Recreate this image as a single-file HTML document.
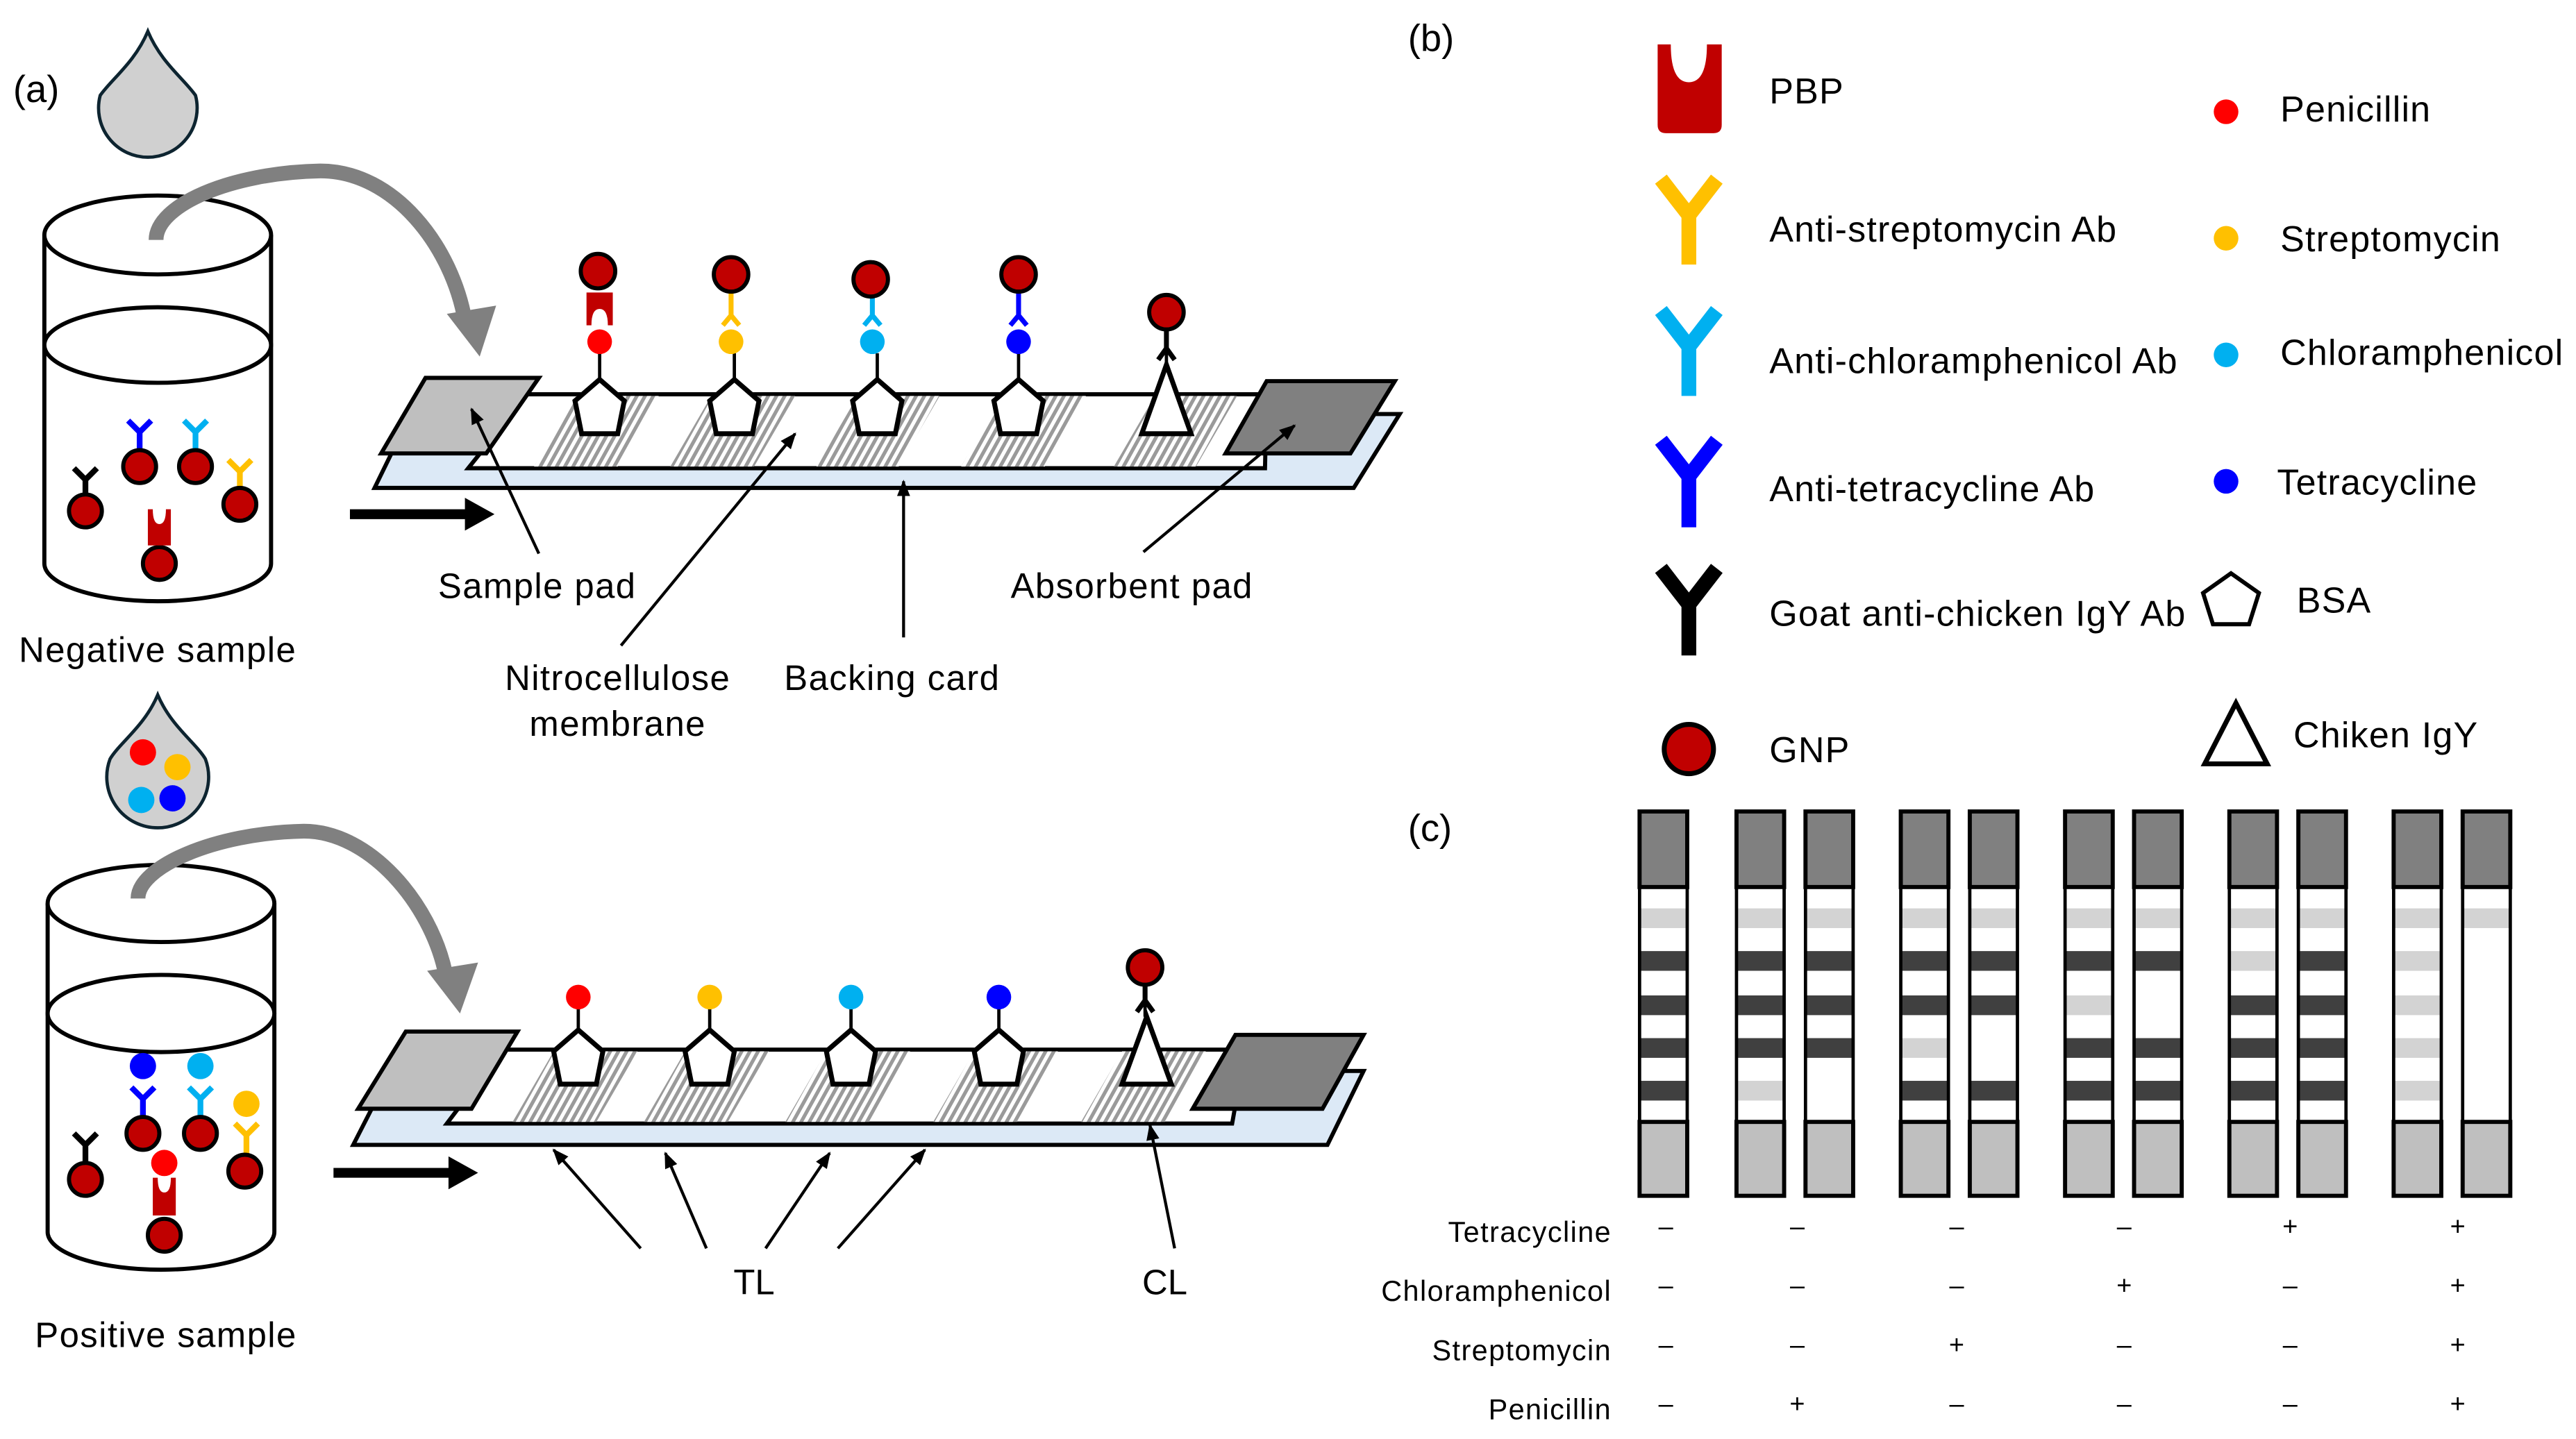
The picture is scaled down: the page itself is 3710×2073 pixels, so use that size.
<!DOCTYPE html>
<html><head><meta charset="utf-8"><style>
html,body{margin:0;padding:0;background:#fff;}
svg{display:block;}
text{font-family:"Liberation Sans",Arial,sans-serif;fill:#000;}
</style></head><body>
<svg width="3710" height="2073" viewBox="0 0 1568 876" xmlns="http://www.w3.org/2000/svg">
<defs>
<pattern id="h" width="5" height="10" patternUnits="userSpaceOnUse" patternTransform="skewX(-29)">
<rect width="5" height="10" fill="#fff"/><rect x="0" width="2.5" height="10" fill="#9a9a9a"/>
</pattern>
<marker id="ah" markerWidth="10" markerHeight="10" refX="9" refY="5" orient="auto" markerUnits="userSpaceOnUse">
<path d="M0,1 L10,5 L0,9 Z" fill="#000"/></marker>
</defs>

<!-- ============ PANEL A TOP ============ -->
<text x="8" y="62" font-size="23">(a)</text>
<path d="M90,19 C82,38 68,48 61,58 A30,30 0 1 0 119,58 C112,48 98,38 90,19 Z" fill="#d0d0d0" stroke="#0d2430" stroke-width="2"/>
<path d="M27,143 L27,343 A69,23 0 0 0 165,343 L165,143" fill="#fff" stroke="#000" stroke-width="2.5"/>
<ellipse cx="96" cy="143" rx="69" ry="24" fill="#fff" stroke="#000" stroke-width="2.5"/>
<ellipse cx="96" cy="210" rx="69" ry="23" fill="#fff" stroke="#000" stroke-width="2.5"/>
<g stroke-width="3.5" fill="none">
<path d="M45,285 L52,292 L59,285 M52,292 L52,302" stroke="#000"/>
<path d="M78,256 L85,263 L92,256 M85,263 L85,274" stroke="#0000ff"/>
<path d="M112,256 L119,263 L126,256 M119,263 L119,274" stroke="#00b0f0"/>
<path d="M139,280 L146,287 L153,280 M146,287 L146,297" stroke="#ffc000"/>
</g>
<g fill="#c00000" stroke="#000" stroke-width="2.5">
<circle cx="52" cy="311" r="10"/><circle cx="85" cy="284" r="10"/><circle cx="119" cy="284" r="10"/><circle cx="146" cy="307" r="10"/><circle cx="97" cy="343" r="10"/>
</g>
<path d="M90,310 L93,310 Q93,319 97,319 Q101,319 101,310 L104,310 L104,332 L90,332 Z" fill="#c00000"/>
<g font-size="21.5" letter-spacing="0.6" text-anchor="middle">
<text x="96" y="403">Negative sample</text>
</g>
<path d="M95,146 C95,125 140,105 195,104 C240,104 275,150 283,195" fill="none" stroke="#808080" stroke-width="9"/>
<path d="M272,191 L302,186 L292,217 Z" fill="#808080"/>
<polygon points="228,297 250,252 852,252 824,297" fill="#dce9f6" stroke="#000" stroke-width="2.5"/>
<polygon points="285,285 321,240 771,240 770,285" fill="#fff" stroke="#000" stroke-width="2.5"/>
<g fill="url(#h)">
<polygon points="325,284 351,241 401,241 376,284"/>
<polygon points="408,284 433,241 484,241 459,284"/>
<polygon points="497,284 522,241 572,241 547,284"/>
<polygon points="585,284 610,241 661,241 636,284"/>
<polygon points="678,284 703,241 753,241 728,284"/>
</g>
<polygon points="232,276 259,230 328,230 296,276" fill="#bfbfbf" stroke="#000" stroke-width="2.5"/>
<polygon points="746,276 771,232 849,232 822,276" fill="#808080" stroke="#000" stroke-width="2.5"/>
<g fill="#fff" stroke="#000" stroke-width="3">
<polygon points="365,231 380,244 376,264 354,264 350,244"/>
<polygon points="447,231 462,244 458,264 436,264 432,244"/>
<polygon points="534,231 549,244 545,264 523,264 519,244"/>
<polygon points="620,231 635,244 631,264 609,264 605,244"/>
<polygon points="710,222 725,264 695,264"/>
</g>
<g stroke="#000" stroke-width="2"><line x1="365" y1="215" x2="365" y2="231"/><line x1="447" y1="215" x2="447" y2="231"/><line x1="534" y1="215" x2="534" y2="231"/><line x1="620" y1="215" x2="620" y2="231"/><line x1="710" y1="200" x2="710" y2="222"/></g>
<circle cx="365" cy="208" r="7.5" fill="#ff0000"/><circle cx="445" cy="208" r="7.5" fill="#ffc000"/><circle cx="531" cy="208" r="7.5" fill="#00b0f0"/><circle cx="620" cy="208" r="7.5" fill="#0000ff"/>
<path d="M357,178 L373,178 L373,198 L370,198 Q370,188 365,188 Q360,188 360,198 L357,198 Z" fill="#c00000"/>
<g stroke-width="3" fill="none">
<path d="M440,198 L445,192 L450,198 M445,192 L445,176" stroke="#ffc000"/>
<path d="M526,198 L531,192 L536,198 M531,192 L531,180" stroke="#00b0f0"/>
<path d="M615,198 L620,192 L625,198 M620,192 L620,177" stroke="#0000ff"/>
<path d="M705,219 L710,212 L715,219 M710,212 L710,200" stroke="#000"/>
</g>
<g fill="#c00000" stroke="#000" stroke-width="2.5">
<circle cx="364" cy="165" r="10.5"/><circle cx="445" cy="167" r="10.5"/><circle cx="530" cy="170" r="10.5"/><circle cx="620" cy="167" r="10.5"/><circle cx="710" cy="190" r="10.5"/>
</g>
<line x1="213" y1="313" x2="286" y2="313" stroke="#000" stroke-width="6"/>
<path d="M283,303 L301,313 L283,323 Z" fill="#000"/>
<g stroke="#000" stroke-width="1.8" marker-end="url(#ah)">
<line x1="328" y1="337" x2="287" y2="249"/>
<line x1="378" y1="393" x2="484" y2="264"/>
<line x1="550" y1="388" x2="550" y2="293"/>
<line x1="696" y1="336" x2="788" y2="259"/>
</g>
<g font-size="21.5" letter-spacing="0.6" text-anchor="middle">
<text x="327" y="364">Sample pad</text>
<text x="376" y="420">Nitrocellulose</text>
<text x="376" y="448">membrane</text>
<text x="543" y="420">Backing card</text>
<text x="689" y="364">Absorbent pad</text>
</g>

<!-- ============ PANEL A BOTTOM ============ -->
<path d="M96,423 C88,442 73,452 67,462 A31,31 0 1 0 125,462 C119,452 104,442 96,423 Z" fill="#d0d0d0" stroke="#0d2430" stroke-width="2"/>
<circle cx="87" cy="458" r="8" fill="#ff0000"/><circle cx="108" cy="467" r="8" fill="#ffc000"/><circle cx="86" cy="487" r="8" fill="#00b0f0"/><circle cx="105" cy="486" r="8" fill="#0000ff"/>
<path d="M29,550 L29,750 A69,23 0 0 0 167,750 L167,550" fill="#fff" stroke="#000" stroke-width="2.5"/>
<ellipse cx="98" cy="550" rx="69" ry="23.5" fill="#fff" stroke="#000" stroke-width="2.5"/>
<ellipse cx="98" cy="617" rx="69" ry="23.5" fill="#fff" stroke="#000" stroke-width="2.5"/>
<circle cx="87" cy="649" r="8" fill="#0000ff"/><circle cx="122" cy="649" r="8" fill="#00b0f0"/><circle cx="150" cy="672" r="8" fill="#ffc000"/><circle cx="100" cy="708" r="8" fill="#ff0000"/>
<g stroke-width="3.5" fill="none">
<path d="M45,690 L52,697 L59,690 M52,697 L52,708" stroke="#000"/>
<path d="M80,662 L87,669 L94,662 M87,669 L87,680" stroke="#0000ff"/>
<path d="M115,662 L122,669 L129,662 M122,669 L122,680" stroke="#00b0f0"/>
<path d="M143,684 L150,691 L157,684 M150,691 L150,703" stroke="#ffc000"/>
</g>
<path d="M93,717 L96,717 Q96,726 100,726 Q104,726 104,717 L107,717 L107,740 L93,740 Z" fill="#c00000"/>
<g fill="#c00000" stroke="#000" stroke-width="2.5">
<circle cx="52" cy="718" r="10"/><circle cx="87" cy="690" r="10"/><circle cx="122" cy="690" r="10"/><circle cx="149" cy="713" r="10"/><circle cx="100" cy="752" r="10"/>
</g>
<text x="101" y="820" font-size="21.5" letter-spacing="0.6" text-anchor="middle">Positive sample</text>
<path d="M84,547 C84,528 130,507 185,506 C225,506 262,550 271,592" fill="none" stroke="#808080" stroke-width="9"/>
<path d="M260,591 L291,586 L280,617 Z" fill="#808080"/>
<polygon points="215,697 238,652 830,652 808,697" fill="#dce9f6" stroke="#000" stroke-width="2.5"/>
<polygon points="272,684 306,639 758,639 750,684" fill="#fff" stroke="#000" stroke-width="2.5"/>
<g fill="url(#h)">
<polygon points="312,683 337,640 388,640 363,683"/>
<polygon points="392,683 417,640 468,640 443,683"/>
<polygon points="478,683 503,640 554,640 529,683"/>
<polygon points="568,683 593,640 644,640 619,683"/>
<polygon points="658,683 683,640 734,640 709,683"/>
</g>
<polygon points="218,675 247,628 315,628 287,675" fill="#bfbfbf" stroke="#000" stroke-width="2.5"/>
<polygon points="726,675 752,630 830,630 805,675" fill="#808080" stroke="#000" stroke-width="2.5"/>
<g fill="#fff" stroke="#000" stroke-width="3">
<polygon points="352,627 367,640 363,660 341,660 337,640"/>
<polygon points="432,627 447,640 443,660 421,660 417,640"/>
<polygon points="518,627 533,640 529,660 507,660 503,640"/>
<polygon points="608,627 623,640 619,660 597,660 593,640"/>
<polygon points="698,619 713,660 683,660"/>
</g>
<g stroke="#000" stroke-width="2"><line x1="352" y1="612" x2="352" y2="627"/><line x1="432" y1="612" x2="432" y2="627"/><line x1="518" y1="612" x2="518" y2="627"/><line x1="608" y1="612" x2="608" y2="627"/><line x1="697" y1="598" x2="697" y2="619"/></g>
<circle cx="352" cy="607" r="7.5" fill="#ff0000"/><circle cx="432" cy="607" r="7.5" fill="#ffc000"/><circle cx="518" cy="607" r="7.5" fill="#00b0f0"/><circle cx="608" cy="607" r="7.5" fill="#0000ff"/>
<path d="M692,616 L697,609 L702,616 M697,609 L697,598" stroke="#000" stroke-width="3" fill="none"/>
<circle cx="697" cy="589" r="10.5" fill="#c00000" stroke="#000" stroke-width="2.5"/>
<line x1="203" y1="714" x2="276" y2="714" stroke="#000" stroke-width="6"/>
<path d="M273,704 L291,714 L273,724 Z" fill="#000"/>
<g stroke="#000" stroke-width="1.8" marker-end="url(#ah)">
<line x1="390" y1="760" x2="337" y2="700"/>
<line x1="430" y1="760" x2="405" y2="702"/>
<line x1="466" y1="760" x2="505" y2="702"/>
<line x1="510" y1="760" x2="563" y2="700"/>
<line x1="715" y1="760" x2="700" y2="685"/>
</g>
<text x="459" y="788" font-size="21.5" text-anchor="middle">TL</text>
<text x="709" y="788" font-size="21.5" text-anchor="middle">CL</text>

<!-- ============ PANEL B ============ -->
<text x="857" y="31" font-size="23">(b)</text>
<path d="M1009,27 L1017,27 Q1017,50 1028,50 Q1039,50 1039,27 L1048,27 L1048,76 Q1048,81 1043,81 L1014,81 Q1009,81 1009,76 Z" fill="#c00000"/>
<g stroke-width="9" fill="none">
<path d="M1011,109 L1028,131 L1045,109 M1028,131 L1028,161" stroke="#ffc000"/>
<path d="M1011,189 L1028,211 L1045,189 M1028,211 L1028,241" stroke="#00b0f0"/>
<path d="M1011,268 L1028,290 L1045,268 M1028,290 L1028,321" stroke="#0000ff"/>
<path d="M1011,346 L1028,368 L1045,346 M1028,368 L1028,399" stroke="#000"/>
</g>
<circle cx="1028" cy="456" r="15" fill="#c00000" stroke="#000" stroke-width="3"/>
<g font-size="22" letter-spacing="0.5">
<text x="1077" y="63">PBP</text>
<text x="1077" y="147">Anti-streptomycin Ab</text>
<text x="1077" y="227">Anti-chloramphenicol Ab</text>
<text x="1077" y="305">Anti-tetracycline Ab</text>
<text x="1077" y="381">Goat anti-chicken IgY Ab</text>
<text x="1077" y="464">GNP</text>
<text x="1388" y="74">Penicillin</text>
<text x="1388" y="153">Streptomycin</text>
<text x="1388" y="222">Chloramphenicol</text>
<text x="1386" y="301">Tetracycline</text>
<text x="1398" y="373">BSA</text>
<text x="1396" y="455">Chiken IgY</text>
</g>
<circle cx="1355" cy="68" r="7.5" fill="#ff0000"/><circle cx="1355" cy="145" r="7.5" fill="#ffc000"/><circle cx="1355" cy="216" r="7.5" fill="#00b0f0"/><circle cx="1355" cy="293" r="7.5" fill="#0000ff"/>
<polygon points="1358,349 1375,361 1369,380 1347,380 1341,361" fill="#fff" stroke="#000" stroke-width="2.5"/>
<polygon points="1361,428 1380,465 1342,465" fill="#fff" stroke="#000" stroke-width="3"/>

<!-- ============ PANEL C ============ -->
<text x="857" y="512" font-size="23">(c)</text>
<g font-size="17.5" letter-spacing="0.6" text-anchor="end">
<text x="981" y="756">Tetracycline</text>
<text x="981" y="792">Chloramphenicol</text>
<text x="981" y="828">Streptomycin</text>
<text x="981" y="864">Penicillin</text>
</g>
<g font-size="16" text-anchor="middle">
<text x="1014" y="752">–</text><text x="1094" y="752">–</text><text x="1191" y="752">–</text><text x="1293" y="752">–</text><text x="1394" y="752">+</text><text x="1496" y="752">+</text>
<text x="1014" y="788">–</text><text x="1094" y="788">–</text><text x="1191" y="788">–</text><text x="1293" y="788">+</text><text x="1394" y="788">–</text><text x="1496" y="788">+</text>
<text x="1014" y="824">–</text><text x="1094" y="824">–</text><text x="1191" y="824">+</text><text x="1293" y="824">–</text><text x="1394" y="824">–</text><text x="1496" y="824">+</text>
<text x="1014" y="860">–</text><text x="1094" y="860">+</text><text x="1191" y="860">–</text><text x="1293" y="860">–</text><text x="1394" y="860">–</text><text x="1496" y="860">+</text>
</g>
<g>
<g transform="translate(998,0)"><rect x="0" y="541" width="29" height="142" fill="#fff"/><rect x="0" y="553" width="29" height="12" fill="#d3d3d3"/><rect x="0" y="579" width="29" height="12" fill="#404040"/><rect x="0" y="606" width="29" height="12" fill="#404040"/><rect x="0" y="632" width="29" height="12" fill="#404040"/><rect x="0" y="658" width="29" height="12" fill="#404040"/><rect x="0" y="494" width="29" height="46" fill="#808080" stroke="#000" stroke-width="2.5"/><rect x="0" y="540" width="29" height="143" fill="none" stroke="#000" stroke-width="2"/><rect x="0" y="683" width="29" height="45" fill="#bfbfbf" stroke="#000" stroke-width="2.5"/></g>
<g transform="translate(1057,0)"><rect x="0" y="541" width="29" height="142" fill="#fff"/><rect x="0" y="553" width="29" height="12" fill="#d3d3d3"/><rect x="0" y="579" width="29" height="12" fill="#404040"/><rect x="0" y="606" width="29" height="12" fill="#404040"/><rect x="0" y="632" width="29" height="12" fill="#404040"/><rect x="0" y="658" width="29" height="12" fill="#d3d3d3"/><rect x="0" y="494" width="29" height="46" fill="#808080" stroke="#000" stroke-width="2.5"/><rect x="0" y="540" width="29" height="143" fill="none" stroke="#000" stroke-width="2"/><rect x="0" y="683" width="29" height="45" fill="#bfbfbf" stroke="#000" stroke-width="2.5"/></g>
<g transform="translate(1099,0)"><rect x="0" y="541" width="29" height="142" fill="#fff"/><rect x="0" y="553" width="29" height="12" fill="#d3d3d3"/><rect x="0" y="579" width="29" height="12" fill="#404040"/><rect x="0" y="606" width="29" height="12" fill="#404040"/><rect x="0" y="632" width="29" height="12" fill="#404040"/><rect x="0" y="494" width="29" height="46" fill="#808080" stroke="#000" stroke-width="2.5"/><rect x="0" y="540" width="29" height="143" fill="none" stroke="#000" stroke-width="2"/><rect x="0" y="683" width="29" height="45" fill="#bfbfbf" stroke="#000" stroke-width="2.5"/></g>
<g transform="translate(1157,0)"><rect x="0" y="541" width="29" height="142" fill="#fff"/><rect x="0" y="553" width="29" height="12" fill="#d3d3d3"/><rect x="0" y="579" width="29" height="12" fill="#404040"/><rect x="0" y="606" width="29" height="12" fill="#404040"/><rect x="0" y="632" width="29" height="12" fill="#d3d3d3"/><rect x="0" y="658" width="29" height="12" fill="#404040"/><rect x="0" y="494" width="29" height="46" fill="#808080" stroke="#000" stroke-width="2.5"/><rect x="0" y="540" width="29" height="143" fill="none" stroke="#000" stroke-width="2"/><rect x="0" y="683" width="29" height="45" fill="#bfbfbf" stroke="#000" stroke-width="2.5"/></g>
<g transform="translate(1199,0)"><rect x="0" y="541" width="29" height="142" fill="#fff"/><rect x="0" y="553" width="29" height="12" fill="#d3d3d3"/><rect x="0" y="579" width="29" height="12" fill="#404040"/><rect x="0" y="606" width="29" height="12" fill="#404040"/><rect x="0" y="658" width="29" height="12" fill="#404040"/><rect x="0" y="494" width="29" height="46" fill="#808080" stroke="#000" stroke-width="2.5"/><rect x="0" y="540" width="29" height="143" fill="none" stroke="#000" stroke-width="2"/><rect x="0" y="683" width="29" height="45" fill="#bfbfbf" stroke="#000" stroke-width="2.5"/></g>
<g transform="translate(1257,0)"><rect x="0" y="541" width="29" height="142" fill="#fff"/><rect x="0" y="553" width="29" height="12" fill="#d3d3d3"/><rect x="0" y="579" width="29" height="12" fill="#404040"/><rect x="0" y="606" width="29" height="12" fill="#d3d3d3"/><rect x="0" y="632" width="29" height="12" fill="#404040"/><rect x="0" y="658" width="29" height="12" fill="#404040"/><rect x="0" y="494" width="29" height="46" fill="#808080" stroke="#000" stroke-width="2.5"/><rect x="0" y="540" width="29" height="143" fill="none" stroke="#000" stroke-width="2"/><rect x="0" y="683" width="29" height="45" fill="#bfbfbf" stroke="#000" stroke-width="2.5"/></g>
<g transform="translate(1299,0)"><rect x="0" y="541" width="29" height="142" fill="#fff"/><rect x="0" y="553" width="29" height="12" fill="#d3d3d3"/><rect x="0" y="579" width="29" height="12" fill="#404040"/><rect x="0" y="632" width="29" height="12" fill="#404040"/><rect x="0" y="658" width="29" height="12" fill="#404040"/><rect x="0" y="494" width="29" height="46" fill="#808080" stroke="#000" stroke-width="2.5"/><rect x="0" y="540" width="29" height="143" fill="none" stroke="#000" stroke-width="2"/><rect x="0" y="683" width="29" height="45" fill="#bfbfbf" stroke="#000" stroke-width="2.5"/></g>
<g transform="translate(1357,0)"><rect x="0" y="541" width="29" height="142" fill="#fff"/><rect x="0" y="553" width="29" height="12" fill="#d3d3d3"/><rect x="0" y="579" width="29" height="12" fill="#d3d3d3"/><rect x="0" y="606" width="29" height="12" fill="#404040"/><rect x="0" y="632" width="29" height="12" fill="#404040"/><rect x="0" y="658" width="29" height="12" fill="#404040"/><rect x="0" y="494" width="29" height="46" fill="#808080" stroke="#000" stroke-width="2.5"/><rect x="0" y="540" width="29" height="143" fill="none" stroke="#000" stroke-width="2"/><rect x="0" y="683" width="29" height="45" fill="#bfbfbf" stroke="#000" stroke-width="2.5"/></g>
<g transform="translate(1399,0)"><rect x="0" y="541" width="29" height="142" fill="#fff"/><rect x="0" y="553" width="29" height="12" fill="#d3d3d3"/><rect x="0" y="579" width="29" height="12" fill="#404040"/><rect x="0" y="606" width="29" height="12" fill="#404040"/><rect x="0" y="632" width="29" height="12" fill="#404040"/><rect x="0" y="658" width="29" height="12" fill="#404040"/><rect x="0" y="494" width="29" height="46" fill="#808080" stroke="#000" stroke-width="2.5"/><rect x="0" y="540" width="29" height="143" fill="none" stroke="#000" stroke-width="2"/><rect x="0" y="683" width="29" height="45" fill="#bfbfbf" stroke="#000" stroke-width="2.5"/></g>
<g transform="translate(1457,0)"><rect x="0" y="541" width="29" height="142" fill="#fff"/><rect x="0" y="553" width="29" height="12" fill="#d3d3d3"/><rect x="0" y="579" width="29" height="12" fill="#d3d3d3"/><rect x="0" y="606" width="29" height="12" fill="#d3d3d3"/><rect x="0" y="632" width="29" height="12" fill="#d3d3d3"/><rect x="0" y="658" width="29" height="12" fill="#d3d3d3"/><rect x="0" y="494" width="29" height="46" fill="#808080" stroke="#000" stroke-width="2.5"/><rect x="0" y="540" width="29" height="143" fill="none" stroke="#000" stroke-width="2"/><rect x="0" y="683" width="29" height="45" fill="#bfbfbf" stroke="#000" stroke-width="2.5"/></g>
<g transform="translate(1499,0)"><rect x="0" y="541" width="29" height="142" fill="#fff"/><rect x="0" y="553" width="29" height="12" fill="#d3d3d3"/><rect x="0" y="494" width="29" height="46" fill="#808080" stroke="#000" stroke-width="2.5"/><rect x="0" y="540" width="29" height="143" fill="none" stroke="#000" stroke-width="2"/><rect x="0" y="683" width="29" height="45" fill="#bfbfbf" stroke="#000" stroke-width="2.5"/></g>
</g>
</svg>
</body></html>
